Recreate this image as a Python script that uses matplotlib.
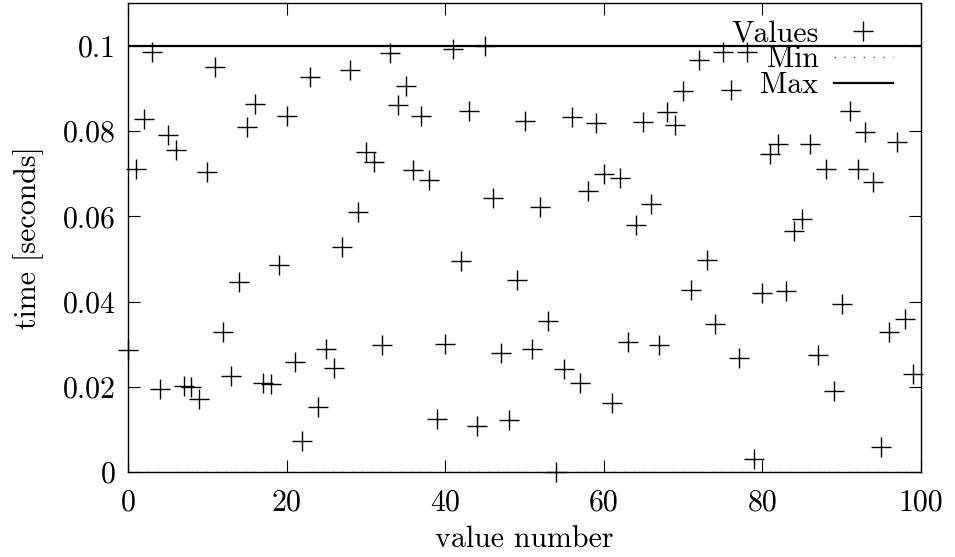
import matplotlib
matplotlib.use("Agg")
import matplotlib.pyplot as plt
import numpy as np

plt.rcParams['font.family'] = 'serif'
plt.rcParams['font.serif'] = ['cmr10', 'DejaVu Serif']
plt.rcParams['mathtext.fontset'] = 'cm'
plt.rcParams['axes.formatter.use_mathtext'] = True

# measured times, one per value number 0..99
times = [
    0.0286, 0.0711, 0.0828, 0.0986, 0.0195, 0.0792, 0.0757, 0.0203, 0.0200, 0.0172,
    0.0705, 0.0951, 0.0329, 0.0226, 0.0447, 0.0810, 0.0865, 0.0210, 0.0206, 0.0486,
    0.0836, 0.0259, 0.0073, 0.0928, 0.0153, 0.0289, 0.0243, 0.0528, 0.0944, 0.0611,
    0.0750, 0.0728, 0.0297, 0.0983, 0.0862, 0.0905, 0.0710, 0.0836, 0.0685, 0.0125,
    0.0301, 0.0994, 0.0496, 0.0848, 0.0109, 0.0999, 0.0644, 0.0280, 0.0122, 0.0451,
    0.0825, 0.0289, 0.0623, 0.0355, 0.0000, 0.0241, 0.0834, 0.0210, 0.0660, 0.0820,
    0.0700, 0.0161, 0.0691, 0.0306, 0.0580, 0.0822, 0.0630, 0.0297, 0.0844, 0.0815,
    0.0895, 0.0428, 0.0967, 0.0498, 0.0347, 0.0987, 0.0897, 0.0268, 0.0987, 0.0030,
    0.0420, 0.0746, 0.0771, 0.0426, 0.0566, 0.0595, 0.0771, 0.0275, 0.0711, 0.0189,
    0.0394, 0.0847, 0.0711, 0.0799, 0.0681, 0.0059, 0.0328, 0.0775, 0.0359, 0.0229,
]
value_number = np.arange(len(times))

x_ticks = [0, 20, 40, 60, 80, 100]
y_ticks = [0, 0.02, 0.04, 0.06, 0.08, 0.1]
y_tick_labels = ['0', '0.02', '0.04', '0.06', '0.08', '0.1']

W, H = 955, 557
fig = plt.figure(figsize=(W / 100, H / 100), dpi=100)
ax = fig.add_axes([128 / W, (H - 472) / H, (921 - 128) / W, 468.6 / H])

fs = 21.5
ax.plot(value_number, times, '+', color='black', markersize=14.5, mew=1.0,
        label='Values', zorder=3, clip_on=False)
ax.axhline(min(times), color='#555555', lw=1.0, ls=(0, (1, 6)), label='Min', zorder=1)
ax.axhline(max(times), color='black', lw=1.6, label='Max', zorder=2)

ax.set_xlim(0, 100)
ax.set_ylim(0, 0.11)
ax.set_xticks(x_ticks)
ax.set_xticklabels([str(v) for v in x_ticks])
ax.set_yticks(y_ticks)
ax.set_yticklabels(y_tick_labels)
ax.tick_params(direction='in', length=8.5, width=0.8, top=True, right=True,
               labelsize=fs)
ax.tick_params(axis='x', pad=12)
ax.tick_params(axis='y', pad=9)
for s in ax.spines.values():
    s.set_linewidth(1.0)

ax.set_xlabel('value number', fontsize=fs, labelpad=7)
ax.set_ylabel('time [seconds]', fontsize=fs, labelpad=13)

ax.legend(loc='upper right', bbox_to_anchor=(0.965, 0.965), markerfirst=False,
          frameon=False, fontsize=fs, handlelength=2.0, handletextpad=0.5,
          labelspacing=-0.05, borderpad=0, borderaxespad=0)

fig.savefig('out.png', dpi=100)
